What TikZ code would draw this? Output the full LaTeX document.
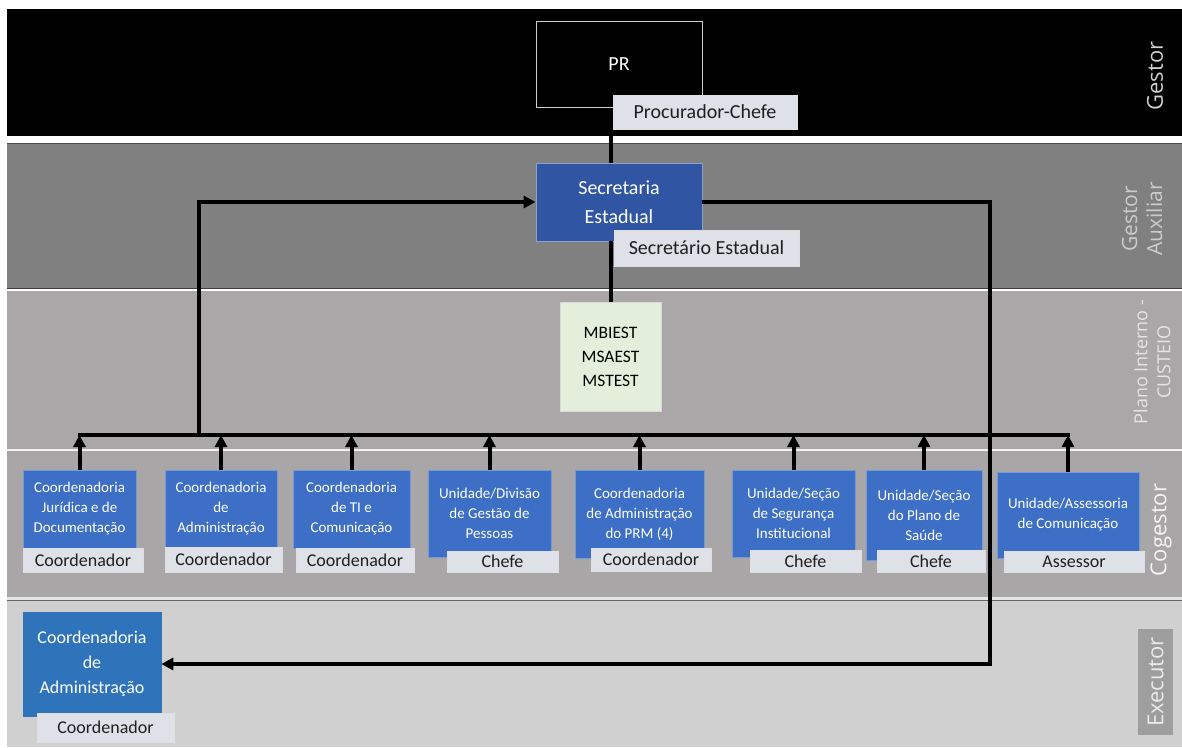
\documentclass[tikz,border=0pt]{standalone}
\usepackage{fontspec}
\setmainfont{Carlito}
\newfontfamily\lanefont{Open Sans}
\usetikzlibrary{arrows.meta}
\definecolor{auxgray}{HTML}{808080}
\definecolor{planogray}{HTML}{A9A7A7}
\definecolor{coggray}{HTML}{A8A6A6}
\definecolor{execgray}{HTML}{D1D0D1}
\definecolor{cogblue}{HTML}{3C6FC5}
\definecolor{secblue}{HTML}{2F55A3}
\definecolor{execblue}{HTML}{2F73BB}
\definecolor{rolegray}{HTML}{DEE1E7}
\definecolor{mbgreen}{HTML}{E3EFDA}
\begin{document}
\begin{tikzpicture}[x=1pt,y=-1pt,
  unit/.style={fill=cogblue, draw=cogblue!70!white, line width=0.6pt, text=white, inner sep=0pt, align=center,
    font=\fontsize{15}{20}\selectfont},
  role/.style={fill=rolegray, draw=white!75!gray, line width=0.4pt, inner sep=0pt,
    text=black!88, font=\fontsize{18}{20}\selectfont},
  link/.style={line width=4pt, black},
  flow/.style={link, -{Triangle[width=12pt,length=12pt]}},
  lane/.style={rotate=90, align=center, inner sep=0pt}
]
\useasboundingbox (0,0) rectangle (1182,747);
\fill[white] (0,0) rectangle (1182,747);

% horizontal swimlanes
\fill[black] (7,9) rectangle (1182,136);
\fill[auxgray] (7,143) rectangle (1182,288);
\draw[black!70, line width=1pt] (7,143.5) -- (1182,143.5);
\draw[black!75, line width=1.5pt] (7,288.5) -- (1182,288.5);
\fill[planogray] (7,291) rectangle (1182,449);
\fill[white!90!gray] (7,449) rectangle (1182,451);
\fill[coggray] (7,451) rectangle (1182,597);
\fill[white!80!gray] (7,597) rectangle (1182,600);
\draw[black!60, line width=1pt] (7,600.5) -- (1182,600.5);
\fill[execgray] (7,601) rectangle (1182,747);

% lane titles
\node[lane, text=white!82!black, font=\lanefont\fontsize{22}{25}\selectfont] (tGestor) at (1155,76) {Gestor};
\node[lane, text=white!80!black, font=\lanefont\fontsize{21}{25}\selectfont] (tAux) at (1142,219) {Gestor\\Auxiliar};
\node[lane, text=white!90!black, font=\lanefont\fontsize{18}{23}\selectfont] (tPlano) at (1152,362) {Plano Interno -\\CUSTEIO};
\node[lane, text=white!96!black, font=\lanefont\fontsize{22}{25}\selectfont] (tCog) at (1161,530) {Cogestor};
\node[fill=white!62!black, minimum width=35pt, minimum height=106pt, inner sep=0pt] (execTag) at (1155.5,682) {};
\node[lane, text=white!92!black, font=\lanefont\fontsize{22}{25}\selectfont] (tExec) at (execTag.center) {Executor};

% top of the hierarchy
\node[draw=white!80!black, line width=1pt, text=white, inner sep=0pt,
  minimum width=166pt, minimum height=86pt, font=\fontsize{20}{24}\selectfont] (pr) at (619,64) {PR};
\node[fill=secblue, draw=secblue!55!white, line width=0.8pt, text=white, inner sep=0pt, align=center,
  minimum width=166pt, minimum height=78pt, font=\fontsize{20}{29}\selectfont] (sec) at (619,202) {Secretaria\\Estadual};
\node[fill=mbgreen, draw=white!70!gray, line width=0.6pt, inner sep=0pt, align=center,
  minimum width=101pt, minimum height=109pt, font=\fontsize{17.5}{24}\selectfont] (mb) at (610.5,356.5) {MBIEST\\MSAEST\\MSTEST};

% co-managing units
\node[unit, minimum width=113pt, minimum height=78pt] (c1) at (79.5,509) {Coordenadoria\\Jurídica e de\\Documentação};
\node[unit, minimum width=112pt, minimum height=77pt] (c2) at (221,508.5) {Coordenadoria\\de\\Administração};
\node[unit, minimum width=117pt, minimum height=78pt] (c3) at (351.5,509) {Coordenadoria\\de TI e\\Comunicação};
\node[unit, minimum width=123pt, minimum height=87pt] (c4) at (489.5,513.5) {Unidade/Divisão\\de Gestão de\\Pessoas};
\node[unit, minimum width=129pt, minimum height=88pt] (c5) at (639.5,514) {Coordenadoria\\de Administração\\do PRM (4)};
\node[unit, minimum width=123pt, minimum height=87pt] (c6) at (793.5,513.5) {Unidade/Seção\\de Segurança\\Institucional};
\node[unit, minimum width=116pt, minimum height=90pt] (c7) at (924,515) {Unidade/Seção\\do Plano de\\Saúde};
\node[unit, minimum width=142pt, minimum height=86pt] (c8) at (1068,515) {Unidade/Assessoria\\de Comunicação};

% executing unit
\node[unit, fill=execblue, draw=execblue, minimum width=138pt, minimum height=104pt,
  font=\fontsize{18}{25}\selectfont] (exec) at (92,664) {Coordenadoria\\de\\Administração};

% role tags
\node[role, minimum width=184pt, minimum height=34pt, font=\fontsize{20}{22}\selectfont] (prRole) at (705,112) {Procurador-Chefe};
\node[role, minimum width=185pt, minimum height=36pt, font=\fontsize{20}{22}\selectfont] (secRole) at (706.5,248) {Secretário Estadual};
\node[role, minimum width=120pt, minimum height=24pt] (r1) at (83,560) {Coordenador};
\node[role, minimum width=117pt, minimum height=25pt] (r2) at (223.5,559.5) {Coordenador};
\node[role, minimum width=118pt, minimum height=24pt] (r3) at (355,560) {Coordenador};
\node[role, minimum width=111pt, minimum height=21pt] (r4) at (502.5,561.5) {Chefe};
\node[role, minimum width=120pt, minimum height=23pt] (r5) at (651,559.5) {Coordenador};
\node[role, minimum width=111pt, minimum height=22pt] (r6) at (805.5,561) {Chefe};
\node[role, minimum width=108pt, minimum height=22pt] (r7) at (931,561) {Chefe};
\node[role, minimum width=140pt, minimum height=21pt] (r8) at (1074,561.5) {Assessor};
\node[role, minimum width=137pt, minimum height=29pt] (rExec) at (105.5,727.5) {Coordenador};

% connectors
\coordinate (busL) at (199,435);
\coordinate (turnR) at (990,664);
\draw[link] (mb.north |- pr.south) -- (mb.north |- sec.north);
\draw[link] (mb.north |- sec.south) -- (mb.north);
\draw[link, line cap=rect] (c1.north |- busL) -- (c8.north |- busL);
\foreach \u in {c1,c2,c3,c4,c5,c6,c7,c8}
  \draw[flow] (\u.north) -- (\u.north |- busL);
\draw[flow] (busL) |- (sec.west);
\draw[flow] (sec.east) -| (turnR) -- (exec.east);
\end{tikzpicture}
\end{document}
